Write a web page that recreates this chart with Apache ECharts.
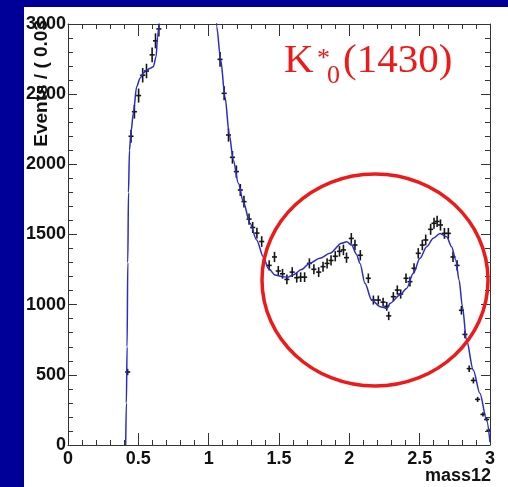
<!DOCTYPE html>
<html>
<head>
<meta charset="utf-8">
<script src="https://cdn.jsdelivr.net/npm/echarts@6/dist/echarts.min.js"></script>
<style>
html, body { margin: 0; padding: 0; background: #fff; }
#main { width: 508px; height: 487px; }
</style>
</head>
<body>
<div id="main"></div>
<script>
// data points (bin centres, events per 0.03)
var massX = [0.424, 0.448, 0.472, 0.502, 0.531, 0.558, 0.598, 0.622, 0.646,
	1.081, 1.11, 1.141, 1.169, 1.197, 1.225, 1.251, 1.287, 1.313, 1.343, 1.377, 1.43, 1.468, 1.495,
	1.525, 1.556, 1.594, 1.626, 1.654, 1.682, 1.716, 1.748, 1.782, 1.813, 1.842, 1.87, 1.9, 1.93,
	1.958, 1.98, 2.014, 2.04, 2.078, 2.135, 2.171, 2.206, 2.24, 2.266, 2.28, 2.313, 2.341, 2.365,
	2.403, 2.431, 2.46, 2.49, 2.519, 2.543, 2.578, 2.602, 2.624, 2.648, 2.676, 2.704, 2.737, 2.766,
	2.797, 2.822, 2.852, 2.882, 2.912, 2.95, 2.976, 2.992];
var counts = [520, 2200, 2375, 2490, 2635, 2665, 2780, 2880, 2965,
	2748, 2506, 2209, 2050, 1948, 1817, 1734, 1610, 1550, 1510, 1450, 1280, 1340, 1240,
	1220, 1180, 1232, 1192, 1196, 1196, 1294, 1252, 1232, 1271, 1294, 1315, 1345, 1380,
	1390, 1335, 1472, 1425, 1352, 1188, 1033, 1033, 1018, 988, 920, 1057, 1104, 1076,
	1188, 1164, 1259, 1366, 1425, 1461, 1537, 1580, 1593, 1568, 1508, 1508, 1340, 1280,
	960, 788, 544, 460, 325, 218, 182, 105];

// fitted curve
var fitX = [0.41, 0.415, 0.42, 0.425, 0.43, 0.437, 0.448, 0.465, 0.488, 0.512, 0.535, 0.559, 0.585,
	0.607, 0.626, 0.637, 0.649, 0.66, 1.045, 1.057, 1.085, 1.116, 1.147, 1.175, 1.211, 1.246, 1.294,
	1.341, 1.388, 1.424, 1.472, 1.52, 1.56, 1.6, 1.66, 1.716, 1.79, 1.862, 1.945, 1.981, 2.016, 2.05,
	2.076, 2.111, 2.159, 2.218, 2.27, 2.289, 2.36, 2.407, 2.455, 2.502, 2.55, 2.597, 2.645, 2.692,
	2.727, 2.757, 2.78, 2.804, 2.833, 2.881, 2.928, 2.976, 3.0];
var fitY = [0, 300, 700, 1300, 1800, 2100, 2230, 2370, 2553, 2613, 2650, 2672, 2685,
	2696, 2767, 2910, 3005, 3300, 3300, 2981, 2748, 2482, 2209, 2031, 1865, 1734, 1580,
	1461, 1342, 1259, 1211, 1200, 1196, 1212, 1250, 1294, 1330, 1366, 1437, 1449, 1425, 1360,
	1294, 1152, 1033, 986, 974, 1010, 1069, 1116, 1223, 1330, 1413, 1473, 1508, 1484,
	1413, 1318, 1176, 986, 748, 534, 368, 178, 20];

var xTicks = ['0', '0.5', '1', '1.5', '2', '2.5', '3'];
var yTicks = ['0', '500', '1000', '1500', '2000', '2500', '3000'];

var pts = massX.map(function(x, i) { return [x, counts[i]]; });
var fit = fitX.map(function(x, i) { return [x, fitY[i]]; });

var chart = echarts.init(document.getElementById('main'));
var blue = '#000099', red = '#ee1a1a';
var lbl = { fontFamily: 'Liberation Sans', fontWeight: 'bold', fontSize: 18, color: '#111' };

function axisBase(pos, showLbl, isX) {
	return {
		type: 'value', position: pos,
		min: 0, max: isX ? 3 : 3000, interval: isX ? 0.5 : 500,
		axisLine: { show: true, onZero: false, lineStyle: { color: '#333', width: 1 } },
		axisTick: { show: true, inside: true, length: isX ? 12 : 9, lineStyle: { color: '#333' } },
		minorTick: { show: true, splitNumber: 5, length: 5, lineStyle: { color: '#333' } },
		splitLine: { show: false },
		axisLabel: Object.assign({ show: showLbl, margin: isX ? 5 : 2,
			formatter: function(v) { return (isX ? xTicks : yTicks)[Math.round(v / (isX ? 0.5 : 500))]; }
		}, lbl)
	};
}

chart.setOption({
	backgroundColor: '#fff',
	animation: false,
	grid: { left: 68, right: 18, top: 24, bottom: 42 },
	xAxis: [axisBase('bottom', true, true), axisBase('top', false, true)],
	yAxis: [axisBase('left', true, false), axisBase('right', false, false)],
	series: [{
		type: 'custom',
		clip: true,
		data: pts,
		renderItem: function(params, api) {
			var x = api.value(0), y = api.value(1), e = Math.sqrt(y);
			var l = api.coord([x - 0.018, y]), r = api.coord([x + 0.018, y]);
			var t = api.coord([x, y + e]), b = api.coord([x, y - e]);
			var st = { stroke: '#151515', lineWidth: 1.6 };
			return { type: 'group', children: [
				{ type: 'line', shape: { x1: l[0], y1: l[1], x2: r[0], y2: r[1] }, style: st },
				{ type: 'line', shape: { x1: t[0], y1: t[1], x2: b[0], y2: b[1] }, style: st }
			] };
		}
	}, {
		type: 'line',
		data: fit,
		clip: true,
		symbol: 'none',
		smooth: 0.3,
		smoothMonotone: 'x',
		lineStyle: { color: '#2b2bcc', width: 1.5 },
		z: 3
	}],
	graphic: [
		{ type: 'rect', shape: { x: 0, y: 0, width: 508, height: 7 }, style: { fill: blue }, z: 100 },
		{ type: 'rect', shape: { x: 0, y: 0, width: 24, height: 487 }, style: { fill: blue }, z: 100 },
		{ type: 'text', x: 42, y: 20, rotation: Math.PI / 2, z: 50,
			style: { text: 'Events / ( 0.03', align: 'right', verticalAlign: 'middle',
				font: 'bold 19px "Liberation Sans"', fill: '#111' } },
		{ type: 'text', x: 491, y: 476, z: 50,
			style: { text: 'mass12', align: 'right', verticalAlign: 'middle',
				font: 'bold 18px "Liberation Sans"', fill: '#111' } },
		{ type: 'ellipse', shape: { cx: 375, cy: 280, rx: 113, ry: 106 }, z: 60,
			style: { fill: 'none', stroke: red, lineWidth: 3.5 } },
		{ type: 'text', x: 284, y: 61, z: 60,
			style: { text: 'K', verticalAlign: 'middle', font: '41px "Liberation Serif"', fill: red } },
		{ type: 'text', x: 317, y: 59, z: 60,
			style: { text: '*', verticalAlign: 'middle', font: '26px "Liberation Serif"', fill: red } },
		{ type: 'text', x: 327, y: 76, z: 60,
			style: { text: '0', verticalAlign: 'middle', font: '26px "Liberation Serif"', fill: red } },
		{ type: 'text', x: 343, y: 61, z: 60,
			style: { text: '(1430)', verticalAlign: 'middle', font: '41px "Liberation Serif"', fill: red } }
	]
});
</script>
</body>
</html>
